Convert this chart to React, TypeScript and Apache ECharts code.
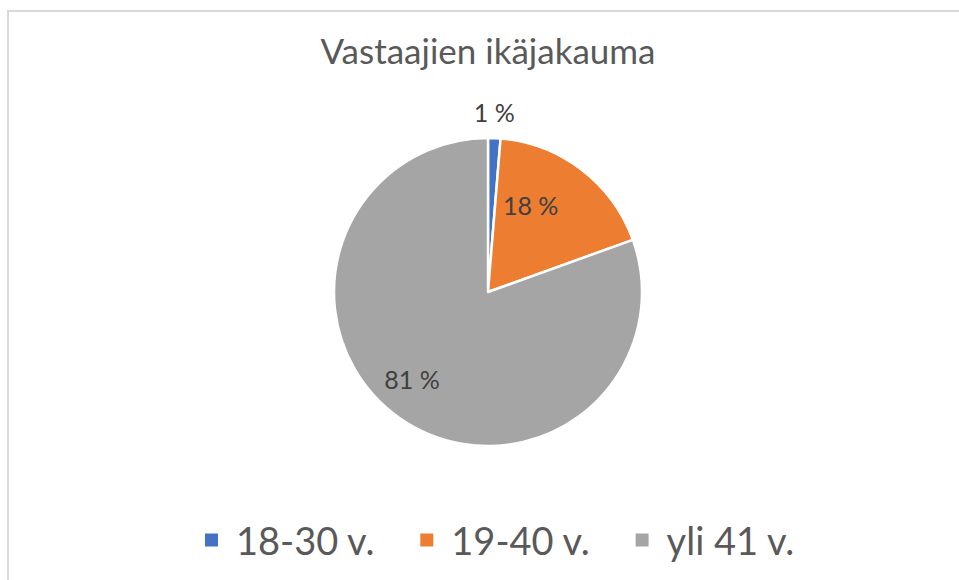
import React, { useEffect, useRef } from "react";
import * as echarts from "echarts";

const titleText = "Vastaajien ikäjakauma";
const categories = ["18-30 v.", "19-40 v.", "yli 41 v."];
const shares = [1.3, 18.2, 80.5];
const colors = ["#4472C4", "#ED7D31", "#A5A5A5"];

export default function App() {
  const ref = useRef<HTMLDivElement>(null);
  useEffect(() => {
    if (!ref.current) return;
    const chart = echarts.init(ref.current, null, { renderer: "svg" });
    const labelOffsets = [
      [3, -100],
      [-6, -23],
      [-30, 22],
    ];
    chart.setOption({
      animation: false,
      backgroundColor: "#ffffff",
      title: {
        text: titleText,
        left: 488,
        textAlign: "center",
        top: 32,
        padding: 0,
        textStyle: {
          fontFamily: "Lato",
          fontSize: 35,
          fontWeight: "normal",
          color: "#595959",
        },
      },
      legend: {
        left: 203,
        top: 520,
        padding: 0,
        itemWidth: 15,
        itemHeight: 15,
        itemGap: 43,
        icon: "rect",
        data: categories,
        textStyle: {
          fontFamily: "Lato",
          fontSize: 38,
          color: "#595959",
          padding: [0, 0, 0, 12],
          lineHeight: 40,
        },
      },
      graphic: [
        {
          type: "rect",
          shape: { x: 8, y: 11, width: 1000, height: 1000 },
          style: { fill: "none", stroke: "#D9D9D9", lineWidth: 2 },
          silent: true,
        },
      ],
      series: [
        {
          type: "pie",
          center: [488, 292],
          radius: 154,
          startAngle: 90,
          clockwise: true,
          data: categories.map((c, i) => ({
            name: c,
            value: shares[i],
            itemStyle: { color: colors[i] },
          })),
          itemStyle: { borderColor: "#ffffff", borderWidth: 2.5 },
          label: {
            show: true,
            position: "inside",
            formatter: (p: any) => `${Math.round(p.value)} %`,
            fontFamily: "Lato",
            fontSize: 25,
            color: "#404040",
          },
          labelLine: { show: false },
          labelLayout: (p: any) => {
            const o = labelOffsets[p.dataIndex] || [0, 0];
            return { dx: o[0], dy: o[1] };
          },
          emphasis: { disabled: true },
        },
      ],
    });
    return () => chart.dispose();
  }, []);
  return (
    <div
      ref={ref}
      style={{ position: "fixed", left: 0, top: 0, width: 959, height: 580 }}
    />
  );
}
